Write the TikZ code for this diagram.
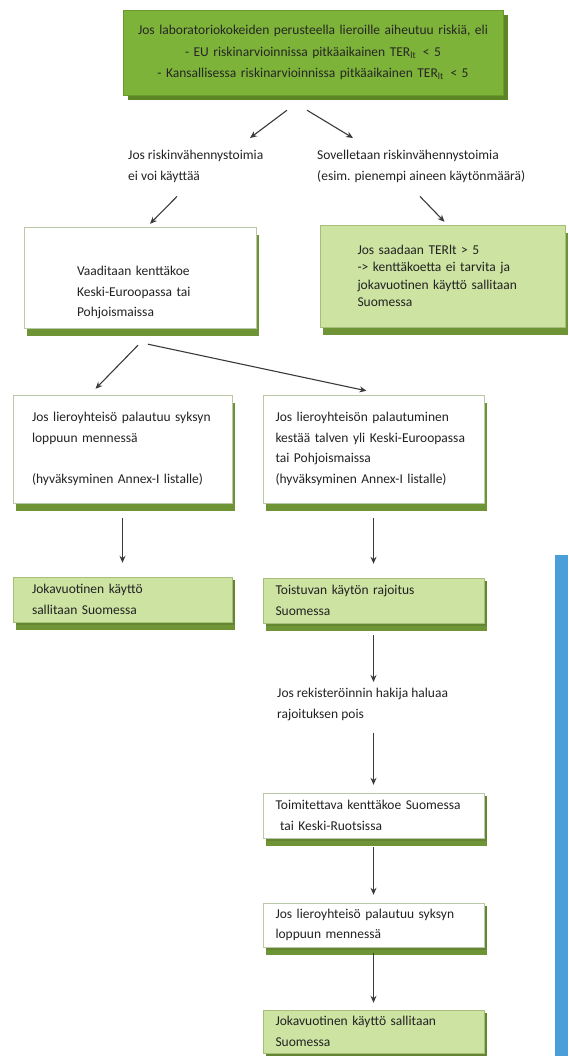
\documentclass[tikz,border=0pt]{standalone}
\usepackage{fontspec}
\setmainfont{Carlito}
\usepackage{xcolor}
\usetikzlibrary{arrows.meta,shadows}

\definecolor{greenTop}{HTML}{7DB338}
\definecolor{greenTopEdge}{HTML}{6A9A2C}
\definecolor{greenDark}{HTML}{5C8526}
\definecolor{greenLight}{HTML}{CDE3A2}
\definecolor{greenLightEdge}{HTML}{A4BF78}
\definecolor{greenShadow}{HTML}{6F9436}
\definecolor{boxEdge}{HTML}{BCC9A8}
\definecolor{arrowGrey}{HTML}{3A3A3A}
\definecolor{textGrey}{HTML}{222222}
\definecolor{barBlue}{HTML}{4A9FDA}

\begin{document}
\begin{tikzpicture}[x=1pt,y=-1pt,
      font=\fontsize{13.5}{20.5}\selectfont,
      box_top/.style={
         rectangle,
         draw=greenTopEdge,
         fill=greenTop,
         text=black!85,
         align=center,
         inner sep=0pt,
         minimum width=380pt,
         minimum height=85pt,
         text width=376pt,
         font=\fontsize{13.5}{21.5}\selectfont,
         drop shadow={shadow xshift=5pt,shadow yshift=-5pt,fill=greenDark,opacity=1}},
      box_white/.style={
         rectangle,
         draw=boxEdge,
         fill=white,
         text=textGrey,
         align=left,
         inner sep=0pt,
         drop shadow={shadow xshift=3pt,shadow yshift=-8pt,fill=greenShadow,opacity=1}},
      box_green/.style={
         box_white,
         draw=greenLightEdge,
         fill=greenLight},
      thin_shadow/.style={
         drop shadow={shadow xshift=3pt,shadow yshift=-3pt,fill=greenShadow!90!black,opacity=1}},
      free_text/.style={
         anchor=north west,
         align=left,
         inner sep=0pt,
         text=textGrey},
      arrow_grey/.style={
         -{Stealth[length=7pt,width=6pt]},
         draw=arrowGrey,
         line width=1.1pt},
      bar_blue/.style={
         rectangle,
         fill=barBlue,
         inner sep=0pt,
         minimum width=13pt,
         minimum height=501pt}
]
      \useasboundingbox (0,0) rectangle (568,1056);

      %start
      \node[box_top] (top) at (313,52.5) {Jos laboratoriokokeiden perusteella lieroille aiheutuu riskiä, eli\\
        - EU riskinarvioinnissa pitkäaikainen TER\textsubscript{lt} \,< 5\\
        - Kansallisessa riskinarvioinnissa pitkäaikainen TER\textsubscript{lt} \,< 5};

      %two ways
      \node[free_text] (noRed) at (128,150) {Jos riskinvähennystoimia\\ei voi käyttää};
      \node[free_text] (useRed) at (317,150) {Sovelletaan riskinvähennystoimia\\(esim. pienempi aineen käytönmäärä)};

      \node[box_white,minimum width=232pt,minimum height=101pt,text width=126pt,text height=40pt] (fieldEU) at (140,277.5)
        {Vaaditaan kenttäkoe\\Keski-Euroopassa tai\\Pohjoismaissa};
      \node[box_green,minimum width=245pt,minimum height=102pt,text width=170pt,
            font=\fontsize{13.5}{17.5}\selectfont] (saadaan) at (442.5,276)
        {Jos saadaan TERlt > 5\\-> kenttäkoetta ei tarvita ja\\jokavuotinen käyttö sallitaan\\Suomessa};

      %field test results
      \node[box_white,minimum width=219pt,minimum height=108pt,text width=181pt] (early) at (122.5,449)
        {Jos lieroyhteisö palautuu syksyn\\loppuun mennessä\\[20.5pt](hyväksyminen Annex-I listalle)};
      \node[box_white,minimum width=221pt,minimum height=108pt,text width=196pt] (winter) at (373.5,449)
        {Jos lieroyhteisön palautuminen\\kestää talven yli Keski-Euroopassa\\tai Pohjoismaissa\\(hyväksyminen Annex-I listalle)};

      \node[box_green,thin_shadow,minimum width=219pt,minimum height=45pt,text width=181pt] (annual1) at (122.5,599.5)
        {Jokavuotinen käyttö\\sallitaan Suomessa};
      \node[box_green,thin_shadow,minimum width=221pt,minimum height=45pt,text width=196pt] (restrict) at (373.5,600.5)
        {Toistuvan käytön rajoitus\\Suomessa};

      %right column
      \node[free_text] (wants) at (277,688) {Jos rekisteröinnin hakija haluaa\\rajoituksen pois};
      \node[box_white,thin_shadow,minimum width=221pt,minimum height=45pt,text width=196pt] (fieldFI) at (373.5,815.5)
        {Toimitettava kenttäkoe Suomessa\\\ tai Keski-Ruotsissa};
      \node[box_white,thin_shadow,minimum width=221pt,minimum height=44pt,text width=196pt] (early2) at (373.5,925)
        {Jos lieroyhteisö palautuu syksyn\\loppuun mennessä};
      \node[box_green,thin_shadow,minimum width=221pt,minimum height=43pt,text width=196pt] (annual2) at (373.5,1031.5)
        {Jokavuotinen käyttö sallitaan\\Suomessa};

      \node[bar_blue] (sidebar) at (561.5,805.5) {};

      %slanted arrows
      \draw[arrow_grey] ([xshift=-26pt,yshift=-15pt]top.south) -- ([xshift=122pt,yshift=12pt]noRed.north west);
      \draw[arrow_grey] ([xshift=-6pt,yshift=-15pt]top.south) -- ([xshift=36pt,yshift=12pt]useRed.north west);
      \draw[arrow_grey] ([xshift=49pt,yshift=-14pt]noRed.south west) -- ([xshift=10pt,yshift=3pt]fieldEU.north);
      \draw[arrow_grey] ([xshift=103pt,yshift=-14pt]useRed.south west) -- ([xshift=2pt,yshift=3pt]saadaan.north);
      \draw[arrow_grey] ([xshift=-2pt,yshift=-17pt]fieldEU.south) -- ([xshift=-27pt,yshift=6pt]early.north);
      \draw[arrow_grey] ([xshift=8pt,yshift=-16pt]fieldEU.south) -- ([xshift=-7pt,yshift=4pt]winter.north);

      %straight arrows
      \foreach \i/\j/\a/\b in {% start/end/shorten start/shorten end
        early/annual1/15/14,
        winter/restrict/15/14,
        fieldFI/early2/9/8,
        early2/annual2/6/7}
      \draw[arrow_grey,shorten <=\a pt,shorten >=\b pt] (\i.south) -- (\j.north);

      \draw[arrow_grey,shorten <=12pt,shorten >=6pt] (restrict.south) -- (restrict.south |- wants.north);
      \draw[arrow_grey,shorten <=12pt,shorten >=8pt] (restrict.south |- wants.south) -- (fieldFI.north);

\end{tikzpicture}
\end{document}
